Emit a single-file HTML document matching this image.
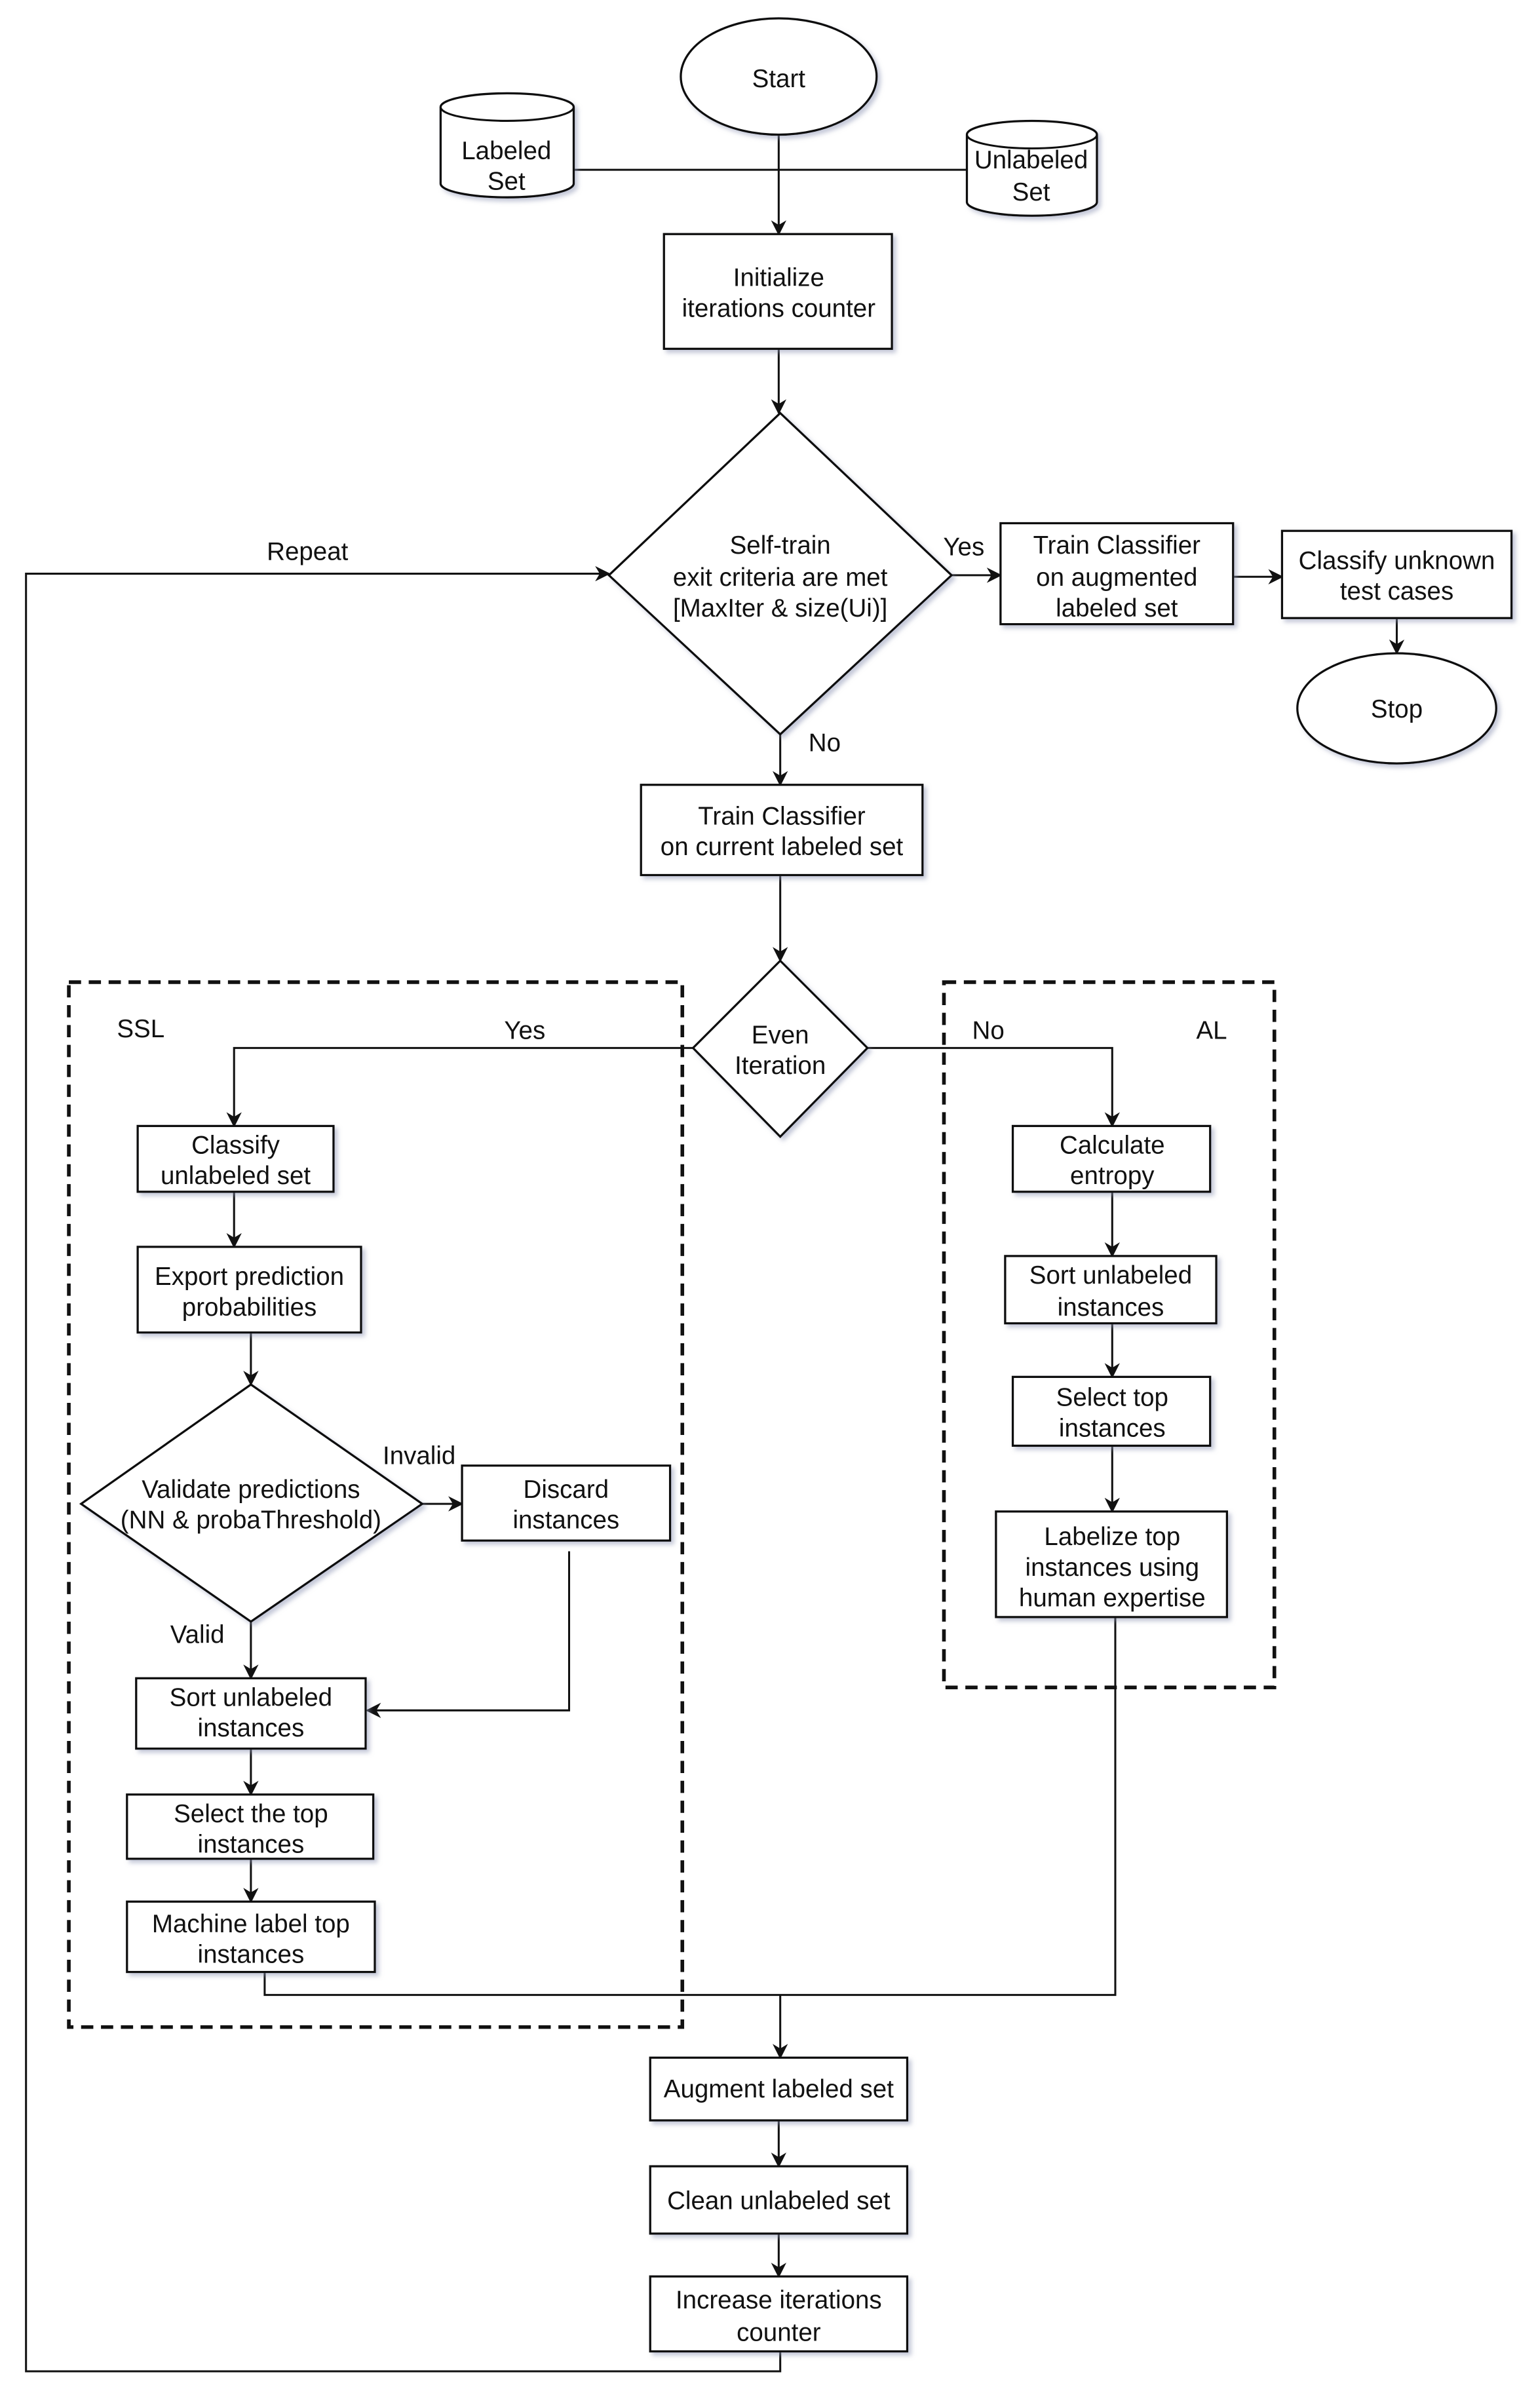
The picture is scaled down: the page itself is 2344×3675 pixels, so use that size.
<!DOCTYPE html>
<html><head><meta charset="utf-8"><style>
html,body{margin:0;padding:0;background:#fff}
svg{display:block}
text{font-family:"Liberation Sans",sans-serif;font-size:16.5px;fill:#111;text-anchor:middle}
.b{fill:#fff;stroke:#111;stroke-width:1.4}
.l{fill:none;stroke:#111;stroke-width:1.3}
.d{fill:none;stroke:#111;stroke-width:2.4;stroke-dasharray:8,5}
</style></head><body>
<svg width="2344" height="3675" viewBox="0 0 1004 1574" preserveAspectRatio="none" xmlns="http://www.w3.org/2000/svg">
<defs>
<marker id="a" markerWidth="10" markerHeight="10" refX="9" refY="5" orient="auto" markerUnits="userSpaceOnUse"><path d="M0,0 L10,5 L0,10 L3,5 z" fill="#111"/></marker>
<filter id="s" x="-10%" y="-10%" width="130%" height="130%"><feDropShadow dx="2" dy="2" stdDeviation="1.5" flood-color="#8890b0" flood-opacity="0.5"/></filter>
</defs>

<!-- dashed groups -->
<rect class="d" x="45" y="642" width="401" height="683"/>
<rect class="d" x="617" y="642" width="216" height="461"/>

<!-- connectors -->
<path class="l" d="M375,111 H632"/>
<path class="l" d="M509,88 V153" marker-end="url(#a)"/>
<path class="l" d="M509,228 V270" marker-end="url(#a)"/>
<path class="l" d="M622,376 H654" marker-end="url(#a)"/>
<path class="l" d="M806,377 H838" marker-end="url(#a)"/>
<path class="l" d="M913,404 V427" marker-end="url(#a)"/>
<path class="l" d="M510,480 V513" marker-end="url(#a)"/>
<path class="l" d="M510,572 V628" marker-end="url(#a)"/>
<path class="l" d="M453,685 H153 V736" marker-end="url(#a)"/>
<path class="l" d="M567,685 H727 V736" marker-end="url(#a)"/>
<path class="l" d="M153,779 V815" marker-end="url(#a)"/>
<path class="l" d="M164,871 V905" marker-end="url(#a)"/>
<path class="l" d="M276,983 H302" marker-end="url(#a)"/>
<path class="l" d="M372,1014 V1118 H240" marker-end="url(#a)"/>
<path class="l" d="M164,1060 V1097" marker-end="url(#a)"/>
<path class="l" d="M164,1143 V1173" marker-end="url(#a)"/>
<path class="l" d="M164,1215 V1243" marker-end="url(#a)"/>
<path class="l" d="M727,779 V821" marker-end="url(#a)"/>
<path class="l" d="M727,865 V900" marker-end="url(#a)"/>
<path class="l" d="M727,945 V988" marker-end="url(#a)"/>
<path class="l" d="M173,1289 V1304 H729 V1057"/>
<path class="l" d="M510,1304 V1345" marker-end="url(#a)"/>
<path class="l" d="M509,1386 V1416" marker-end="url(#a)"/>
<path class="l" d="M509,1460 V1488" marker-end="url(#a)"/>
<path class="l" d="M510,1537 V1550 H17 V375 H398" marker-end="url(#a)"/>

<!-- nodes -->
<g filter="url(#s)">
<ellipse class="b" cx="509" cy="50" rx="64" ry="38"/>
<path class="b" d="M288,70 a43.5,9 0 0 1 87,0 V120 a43.5,9 0 0 1 -87,0 Z"/>
<path class="l" d="M288,70 a43.5,9 0 0 0 87,0"/>
<path class="b" d="M632,88 a42.5,9 0 0 1 85,0 V132 a42.5,9 0 0 1 -85,0 Z"/>
<path class="l" d="M632,88 a42.5,9 0 0 0 85,0"/>
<rect class="b" x="434" y="153" width="149" height="75"/>
<polygon class="b" points="510,270 622,376 510,480 398,376"/>
<rect class="b" x="654" y="342" width="152" height="66"/>
<rect class="b" x="838" y="347" width="150" height="57"/>
<ellipse class="b" cx="913" cy="463" rx="65" ry="36"/>
<rect class="b" x="419" y="513" width="184" height="59"/>
<polygon class="b" points="510,628 567,685 510,743 453,685"/>
<rect class="b" x="90" y="736" width="128" height="43"/>
<rect class="b" x="90" y="815" width="146" height="56"/>
<polygon class="b" points="164,905 276,983 164,1060 53,983"/>
<rect class="b" x="302" y="958" width="136" height="49"/>
<rect class="b" x="89" y="1097" width="150" height="46"/>
<rect class="b" x="83" y="1173" width="161" height="42"/>
<rect class="b" x="83" y="1243" width="162" height="46"/>
<rect class="b" x="662" y="736" width="129" height="43"/>
<rect class="b" x="657" y="821" width="138" height="44"/>
<rect class="b" x="662" y="900" width="129" height="45"/>
<rect class="b" x="651" y="988" width="151" height="69"/>
<rect class="b" x="425" y="1345" width="168" height="41"/>
<rect class="b" x="425" y="1416" width="168" height="44"/>
<rect class="b" x="425" y="1488" width="168" height="49"/>
</g>

<!-- texts -->
<text x="509" y="57">Start</text>
<text x="331" y="104">Labeled</text><text x="331" y="124">Set</text>
<text x="674" y="110">Unlabeled</text><text x="674" y="131">Set</text>
<text x="509" y="187">Initialize</text><text x="509" y="207">iterations counter</text>
<text x="510" y="362">Self-train</text><text x="510" y="383">exit criteria are met</text><text x="510" y="403">[MaxIter &amp; size(Ui)]</text>
<text x="730" y="362">Train Classifier</text><text x="730" y="383">on augmented</text><text x="730" y="403">labeled set</text>
<text x="913" y="372">Classify unknown</text><text x="913" y="392">test cases</text>
<text x="913" y="469">Stop</text>
<text x="511" y="539">Train Classifier</text><text x="511" y="559">on current labeled set</text>
<text x="510" y="682">Even</text><text x="510" y="702">Iteration</text>
<text x="154" y="754">Classify</text><text x="154" y="774">unlabeled set</text>
<text x="163" y="840">Export prediction</text><text x="163" y="860">probabilities</text>
<text x="164" y="979">Validate predictions</text><text x="164" y="999">(NN &amp; probaThreshold)</text>
<text x="370" y="979">Discard</text><text x="370" y="999">instances</text>
<text x="164" y="1115">Sort unlabeled</text><text x="164" y="1135">instances</text>
<text x="164" y="1191">Select the top</text><text x="164" y="1211">instances</text>
<text x="164" y="1263">Machine label top</text><text x="164" y="1283">instances</text>
<text x="727" y="754">Calculate</text><text x="727" y="774">entropy</text>
<text x="726" y="839">Sort unlabeled</text><text x="726" y="860">instances</text>
<text x="727" y="919">Select top</text><text x="727" y="939">instances</text>
<text x="727" y="1010">Labelize top</text><text x="727" y="1030">instances using</text><text x="727" y="1050">human expertise</text>
<text x="509" y="1371">Augment labeled set</text>
<text x="509" y="1444">Clean unlabeled set</text>
<text x="509" y="1509">Increase iterations</text><text x="509" y="1530">counter</text>
<!-- edge labels -->
<text x="201" y="366">Repeat</text>
<text x="630" y="363">Yes</text>
<text x="539" y="491">No</text>
<text x="343" y="679">Yes</text>
<text x="92" y="678" style="text-anchor:middle">SSL</text>
<text x="646" y="679">No</text>
<text x="792" y="679">AL</text>
<text x="274" y="957">Invalid</text>
<text x="129" y="1074">Valid</text>
</svg>
</body></html>
